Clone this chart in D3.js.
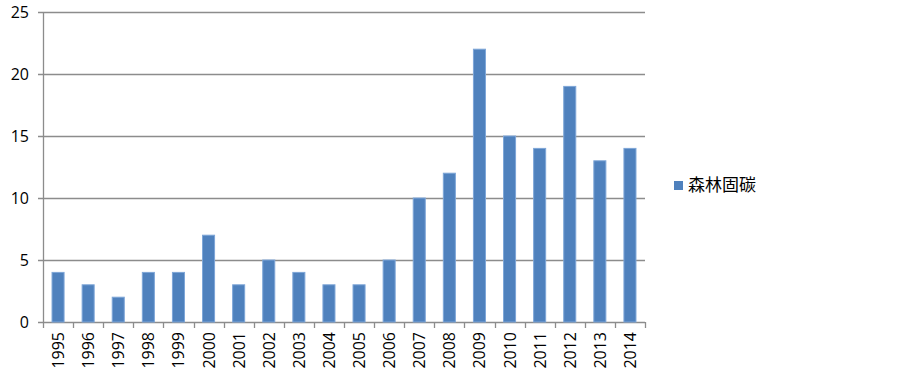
<!DOCTYPE html>
<html>
<head>
<meta charset="utf-8">
<script src="https://cdn.jsdelivr.net/npm/d3@7"></script>
<style>
  body { margin: 0; background: #fff; }
  text { font-family: "Open Sans", "Liberation Sans", sans-serif; fill: #000; }
</style>
</head>
<body>
<div id="chart"></div>
<script>
var years = ["1995", "1996", "1997", "1998", "1999", "2000", "2001", "2002", "2003", "2004",
  "2005", "2006", "2007", "2008", "2009", "2010", "2011", "2012", "2013", "2014"];
var values = [4, 3, 2, 4, 4, 7, 3, 5, 4, 3, 3, 5, 10, 12, 22, 15, 14, 19, 13, 14];
var yTicks = [0, 5, 10, 15, 20, 25];
var seriesName = "森林固碳";

var width = 903, height = 375;
var margin = { top: 12, right: 258, bottom: 53, left: 43 };
var graphWidth = width - margin.left - margin.right,
  graphHeight = height - margin.top - margin.bottom;

var svg = d3.select("#chart").append("svg").attr("width", width).attr("height", height);
var graph = svg.append("g").attr("transform", "translate(" + margin.left + "," + margin.top + ")");

var x = d3.scaleBand().domain(years).range([0, graphWidth]).paddingInner(0.6).paddingOuter(0.3);
var y = d3.scaleLinear().domain([0, 25]).range([graphHeight, 0]);

// gridlines
graph.selectAll("line.grid")
  .data(yTicks)
  .enter()
  .append("line")
  .attr("class", "grid")
  .attr("x1", -5)
  .attr("x2", graphWidth)
  .attr("y1", function (d) { return Math.round(y(d)) + 0.5; })
  .attr("y2", function (d) { return Math.round(y(d)) + 0.5; })
  .attr("stroke", "#8c8c8c")
  .attr("stroke-width", 1.3);

graph.selectAll("text.ylab")
  .data(yTicks)
  .enter()
  .append("text")
  .attr("class", "ylab")
  .attr("x", -14)
  .attr("y", function (d) { return y(d); })
  .attr("dy", "0.35em")
  .attr("text-anchor", "end")
  .style("font-size", "16px")
  .text(function (d) { return d; });

// bars
graph.selectAll("rect.bar")
  .data(values)
  .enter()
  .append("rect")
  .attr("class", "bar")
  .attr("fill", "#4f81bd")
  .attr("stroke", "#7ea6d8")
  .attr("stroke-width", 1)
  .attr("x", function (d, i) { return x(years[i]); })
  .attr("width", x.bandwidth())
  .attr("y", function (d) { return y(d); })
  .attr("height", function (d) { return graphHeight - y(d); });

// y axis line
graph.append("line")
  .attr("x1", 0.5).attr("x2", 0.5)
  .attr("y1", 0).attr("y2", graphHeight)
  .attr("stroke", "#8c8c8c")
  .attr("stroke-width", 1.3);

// x axis ticks at category boundaries
var step = graphWidth / years.length;
var bounds = d3.range(years.length + 1);
graph.selectAll("line.xtick")
  .data(bounds)
  .enter()
  .append("line")
  .attr("class", "xtick")
  .attr("x1", function (d) { return Math.round(d * step) + 0.5; })
  .attr("x2", function (d) { return Math.round(d * step) + 0.5; })
  .attr("y1", graphHeight)
  .attr("y2", graphHeight + 6)
  .attr("stroke", "#8c8c8c")
  .attr("stroke-width", 1.3);

graph.selectAll("text.xlab")
  .data(years)
  .enter()
  .append("text")
  .attr("class", "xlab")
  .attr("transform", function (d) {
    return "translate(" + (x(d) + x.bandwidth() / 2 + 6) + "," + (graphHeight + 10) + ") rotate(-90)";
  })
  .attr("text-anchor", "end")
  .style("font-size", "16px")
  .text(function (d) { return d; });

// legend
var legend = svg.append("g").attr("transform", "translate(674,181)");
legend.append("rect").attr("width", 9).attr("height", 9).attr("fill", "#4f81bd");
legend.append("text")
  .attr("x", 14)
  .attr("y", 4.5)
  .attr("dy", "0.35em")
  .style("font-family", "'Noto Sans CJK SC', sans-serif")
  .style("font-size", "17px")
  .text(seriesName);
</script>
</body>
</html>
